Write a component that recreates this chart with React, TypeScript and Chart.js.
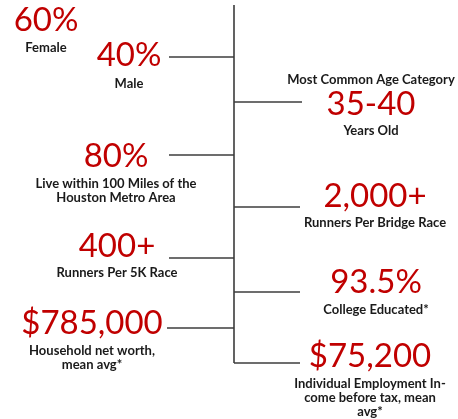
import React, { useEffect, useRef } from "react";
import { Chart, registerables } from "chart.js";

Chart.register(...registerables);

// Figures and their captions
const figures: string[] = ["60%", "40%", "35-40", "80%", "2,000+", "400+", "93.5%", "$785,000", "$75,200"];
const headers: string[] = ["", "", "Most Common Age Category", "", "", "", "", "", ""];
const captions: string[][] = [
  ["Female"],
  ["Male"],
  ["Years Old"],
  ["Live within 100 Miles of the", "Houston Metro Area"],
  ["Runners Per Bridge Race"],
  ["Runners Per 5K Race"],
  ["College Educated*"],
  ["Household net worth,", "mean avg*"],
  ["Individual Employment In-", "come before tax, mean", "avg*"],
];

// Layout (chart units = pixels of the 458x419 frame)
const figureCenterX: number[] = [46, 129, 371, 116, 375, 117, 376, 92, 370];
const figureBaseline: number[] = [31, 66, 115, 167, 207, 257, 293, 334, 367];
const headerBaseline: number[] = [0, 0, 84, 0, 0, 0, 0, 0, 0];
const captionBaseline: number[] = [52, 88, 135, 188, 227, 277, 314, 355, 388];
const captionLineGap = 14;

const spineX = 234;
const spineTop = 5;
const spineBottom = 363;
const leftBranchY: number[] = [57, 155, 258, 328];
const leftBranchStart: number[] = [169, 169, 169, 167];
const rightBranchY: number[] = [102, 207, 292, 363];
const rightBranchEnd: number[] = [302, 300, 300, 300];

const RED = "#c00000";
const INK = "#1a1a1a";
const LINE = "#3c3c3c";

const textPlugin = {
  id: "infoText",
  afterDatasetsDraw(chart: any) {
    const { ctx } = chart;
    const sx = chart.scales.x;
    const sy = chart.scales.y;
    ctx.save();
    ctx.textAlign = "center";
    ctx.textBaseline = "alphabetic";
    figures.forEach((fig, i) => {
      const x = sx.getPixelForValue(figureCenterX[i]);
      if (headers[i]) {
        ctx.font = "bold 13px Lato";
        ctx.fillStyle = INK;
        ctx.fillText(headers[i], x, sy.getPixelForValue(headerBaseline[i]));
      }
      ctx.font = "33px Lato";
      ctx.fillStyle = RED;
      ctx.fillText(fig, x, sy.getPixelForValue(figureBaseline[i]));
      ctx.font = "bold 13px Lato";
      ctx.fillStyle = INK;
      captions[i].forEach((line, j) => {
        ctx.fillText(line, x, sy.getPixelForValue(captionBaseline[i] + j * captionLineGap));
      });
    });
    ctx.restore();
  },
};

export default function App() {
  const ref = useRef<HTMLCanvasElement | null>(null);
  useEffect(() => {
    document.body.style.margin = "0";
    if (!ref.current) return;
    const seg = (x1: number, y1: number, x2: number, y2: number) => ({
      data: [
        { x: x1, y: y1 },
        { x: x2, y: y2 },
      ],
      showLine: true,
      borderColor: LINE,
      borderWidth: 1.6,
      pointRadius: 0,
      fill: false,
    });
    const datasets: any[] = [seg(spineX, spineTop, spineX, spineBottom)];
    leftBranchY.forEach((y, i) => datasets.push(seg(leftBranchStart[i], y, spineX, y)));
    rightBranchY.forEach((y, i) => datasets.push(seg(spineX, y, rightBranchEnd[i], y)));
    const chart = new Chart(ref.current, {
      type: "scatter",
      data: { datasets },
      options: {
        animation: false,
        responsive: false,
        layout: { padding: 0 },
        plugins: { legend: { display: false }, tooltip: { enabled: false } },
        scales: {
          x: { type: "linear", min: 0, max: 458, display: false },
          y: { type: "linear", min: 0, max: 419, reverse: true, display: false },
        },
      },
      plugins: [textPlugin],
    });
    return () => chart.destroy();
  }, []);
  return (
    <div style={{ width: 458, height: 419, background: "#fff" }}>
      <canvas ref={ref} width={458} height={419} style={{ width: 458, height: 419, display: "block" }} />
    </div>
  );
}
